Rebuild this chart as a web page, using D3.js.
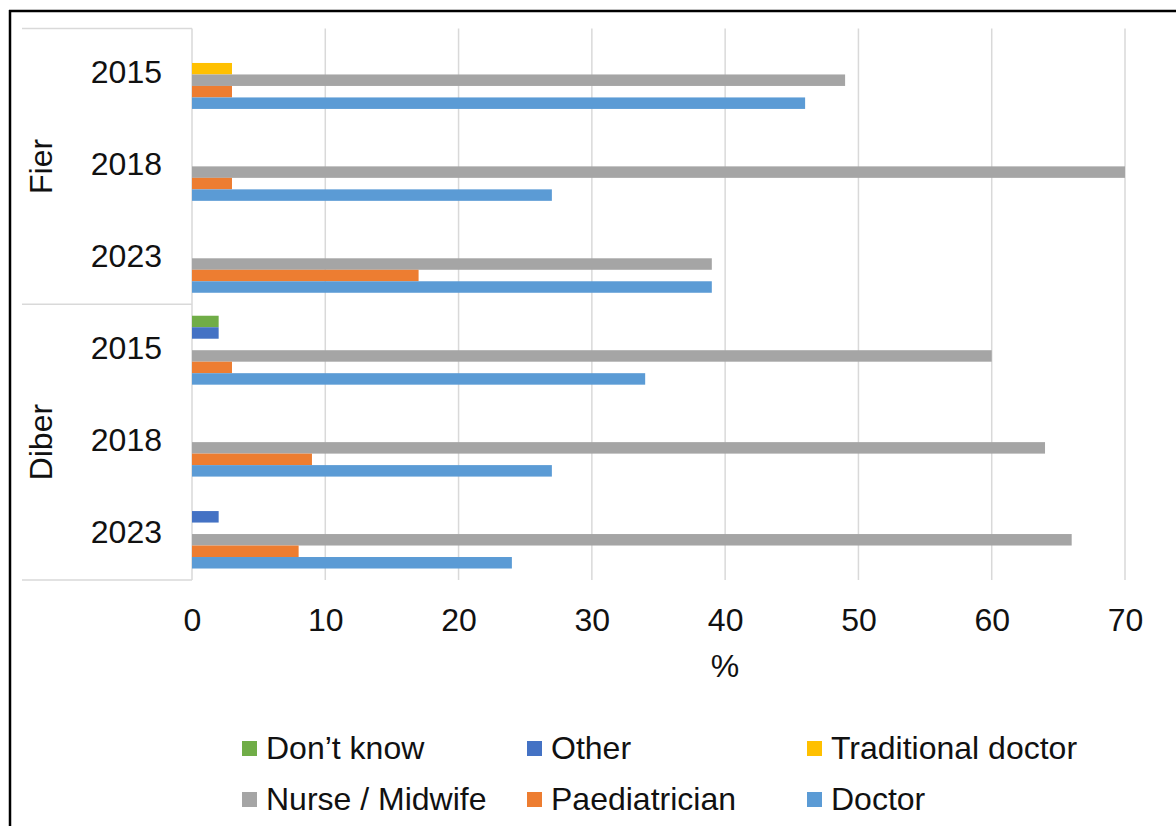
<!DOCTYPE html>
<html>
<head>
<meta charset="utf-8">
<script src="https://cdn.jsdelivr.net/npm/d3@7"></script>
<style>
  html, body { margin: 0; padding: 0; background: #fff; }
  svg { display: block; font-family: "Liberation Sans", Arial, sans-serif; }
</style>
</head>
<body>
<svg id="chart" width="1176" height="826"></svg>
<script>
// Districts and survey years (top to bottom)
const districts = ["Fier", "Diber"];
const years = ["2015", "2018", "2023"];

// Series, listed in legend order (also top-to-bottom order inside each year)
const seriesNames = ["Don’t know", "Other", "Traditional doctor", "Nurse / Midwife", "Paediatrician", "Doctor"];
const seriesColors = ["#70AD47", "#4472C4", "#FFC000", "#A5A5A5", "#ED7D31", "#5B9BD5"];

// Percentages per row: Fier 2015, 2018, 2023, Diber 2015, 2018, 2023
const dontKnow     = [0, 0, 0, 2, 0, 0];
const other        = [0, 0, 0, 2, 0, 2];
const traditional  = [3, 0, 0, 0, 0, 0];
const nurseMidwife = [49, 70, 39, 60, 64, 66];
const paediatrician= [3, 3, 17, 3, 9, 8];
const doctor       = [46, 27, 39, 34, 27, 24];

const xTicks = [0, 10, 20, 30, 40, 50, 60, 70];
const xTitle = "%";

const seriesValues = [dontKnow, other, traditional, nurseMidwife, paediatrician, doctor];
const rows = [];
districts.forEach(d => years.forEach(y => rows.push({ district: d, year: y, key: d + "-" + y })));

const svg = d3.select("#chart");
const FONT = 32;
const TEXT = "#111";

// Plot area
const plot = { left: 192, right: 1125, top: 28.5, bottom: 580 };

const x = d3.scaleLinear().domain([0, 70]).range([plot.left, plot.right]);
const yGroup = d3.scaleBand().domain(rows.map(r => r.key)).range([plot.top, plot.bottom]).paddingInner(0).paddingOuter(0);
const ySeries = d3.scaleBand().domain(seriesNames).range([0, yGroup.bandwidth()]).paddingInner(0).paddingOuter(1);

// Outer frame lines (top and left)
svg.append("line").attr("x1", 9).attr("x2", 1176).attr("y1", 11).attr("y2", 11)
  .attr("stroke", "#000").attr("stroke-width", 2.5);
svg.append("line").attr("x1", 10).attr("x2", 10).attr("y1", 10).attr("y2", 826)
  .attr("stroke", "#000").attr("stroke-width", 2.5);

// Vertical gridlines
const grid = svg.append("g");
grid.selectAll("line").data(xTicks.slice(1)).join("line")
  .attr("x1", d => x(d)).attr("x2", d => x(d))
  .attr("y1", plot.top).attr("y2", plot.bottom)
  .attr("stroke", "#d9d9d9").attr("stroke-width", 1.5);

// Category axis box (multi-level labels)
const axisColor = "#d9d9d9";
svg.append("line").attr("x1", x(0)).attr("x2", x(0)).attr("y1", plot.top).attr("y2", plot.bottom)
  .attr("stroke", axisColor).attr("stroke-width", 1.5);
const boxLines = [plot.top, yGroup(districts[1] + "-" + years[0]), plot.bottom];
svg.append("g").selectAll("line").data(boxLines).join("line")
  .attr("x1", 22).attr("x2", x(0))
  .attr("y1", d => d).attr("y2", d => d)
  .attr("stroke", axisColor).attr("stroke-width", 1.5);

// Bars
const barsG = svg.append("g");
seriesNames.forEach((name, si) => {
  barsG.append("g").attr("fill", seriesColors[si])
    .selectAll("rect")
    .data(rows.map((r, i) => ({ key: r.key, v: seriesValues[si][i] })).filter(d => d.v > 0))
    .join("rect")
    .attr("x", x(0))
    .attr("y", d => yGroup(d.key) + ySeries(name))
    .attr("width", d => x(d.v) - x(0))
    .attr("height", ySeries.bandwidth());
});

// Year labels
svg.append("g").selectAll("text").data(rows).join("text")
  .attr("x", 162)
  .attr("y", d => yGroup(d.key) + yGroup.bandwidth() / 2 + 9)
  .attr("text-anchor", "end")
  .attr("font-size", FONT)
  .attr("fill", TEXT)
  .text(d => d.year);

// District labels (rotated)
districts.forEach(d => {
  const top = yGroup(d + "-" + years[0]);
  const bottom = yGroup(d + "-" + years[years.length - 1]) + yGroup.bandwidth();
  svg.append("text")
    .attr("transform", `translate(52,${(top + bottom) / 2}) rotate(-90)`)
    .attr("text-anchor", "middle")
    .attr("font-size", FONT)
    .attr("fill", TEXT)
    .text(d);
});

// X axis tick labels
const xAxis = d3.axisBottom(x).tickValues(xTicks).tickSize(0).tickPadding(0).tickFormat(d3.format("d"));
const xa = svg.append("g").attr("transform", `translate(0,${plot.bottom})`).call(xAxis);
xa.select(".domain").remove();
xa.selectAll("text")
  .attr("dy", null)
  .attr("y", 51)
  .attr("font-size", FONT)
  .attr("font-family", "Liberation Sans, Arial, sans-serif")
  .attr("fill", TEXT);

// X axis title
svg.append("text").attr("x", 725).attr("y", 677)
  .attr("text-anchor", "middle").attr("font-size", FONT).attr("fill", TEXT)
  .text(xTitle);

// Legend: two rows of three
const legendCols = [242, 527, 807];
const legendRows = [759, 810];
const legend = svg.append("g");
seriesNames.forEach((name, i) => {
  const col = i % 3, row = Math.floor(i / 3);
  const g = legend.append("g").attr("transform", `translate(${legendCols[col]},${legendRows[row]})`);
  g.append("rect").attr("x", 0).attr("y", -18).attr("width", 15).attr("height", 15)
    .attr("fill", seriesColors[i]);
  g.append("text").attr("x", 24).attr("y", 0)
    .attr("font-size", FONT).attr("fill", TEXT).text(name);
});
</script>
</body>
</html>
